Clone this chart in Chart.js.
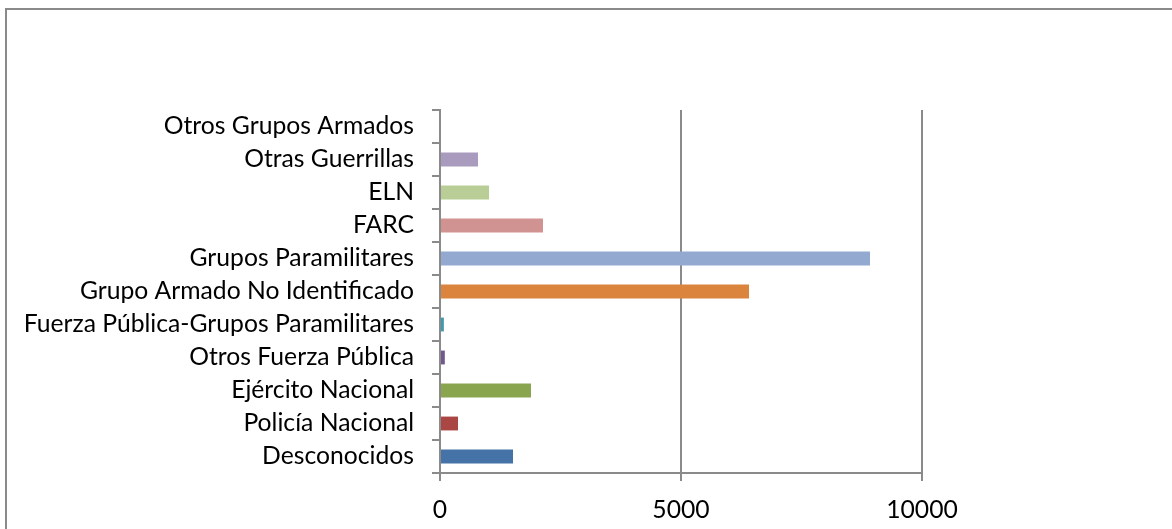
<!DOCTYPE html>
<html>
<head>
<meta charset="utf-8">
<script src="https://cdn.jsdelivr.net/npm/chart.js@4/dist/chart.umd.min.js"></script>
<style>
  html, body { margin: 0; padding: 0; background: #fff; overflow: hidden; }
  #frame {
    position: absolute; left: 5px; top: 8px;
    width: 1300px; height: 700px;
    border-left: 2px solid #8a8a8a; border-top: 2px solid #8a8a8a;
  }
  #wrap { position: absolute; left: 0; top: 0; width: 1172px; height: 529px; }
</style>
</head>
<body>
<div id="frame"></div>
<div id="wrap"><canvas id="chart"></canvas></div>
<script>
// Victims by presumed perpetrator (bottom to top as drawn)
const categories = [
  'Desconocidos',
  'Policía Nacional',
  'Ejército Nacional',
  'Otros Fuerza Pública',
  'Fuerza Pública-Grupos Paramilitares',
  'Grupo Armado No Identificado',
  'Grupos Paramilitares',
  'FARC',
  'ELN',
  'Otras Guerrillas',
  'Otros Grupos Armados'
];
const values = [1515, 373, 1888, 100, 80, 6411, 8921, 2137, 1017, 788, 0];
const barColors = [
  '#4572A7', '#AA4643', '#89A54E', '#71588F', '#4198AF',
  '#DB843D', '#93A9CF', '#D19392', '#B9CD96', '#A99BBD', '#92C3D5'
];
const xTicks = [0, 5000, 10000];

const axisGray = '#8a8a8a';
const labelFont = { family: 'Lato, "Open Sans", sans-serif', size: 24.7 };

new Chart(document.getElementById('chart'), {
  type: 'bar',
  data: {
    labels: categories,
    datasets: [{
      data: values,
      backgroundColor: barColors,
      borderWidth: 0,
      categoryPercentage: 1,
      barPercentage: 0.42
    }]
  },
  options: {
    indexAxis: 'y',
    responsive: true,
    maintainAspectRatio: false,
    animation: false,
    layout: { padding: { top: 110, right: 250, bottom: 0, left: 0 } },
    plugins: { legend: { display: false }, tooltip: { enabled: false } },
    scales: {
      x: {
        min: xTicks[0],
        max: xTicks[xTicks.length - 1],
        afterBuildTicks: s => { s.ticks = xTicks.map(v => ({ value: v })); },
        afterFit: s => { s.height = 56; },
        grid: { color: axisGray, lineWidth: 2, tickLength: 8 },
        border: { color: axisGray, width: 2 },
        ticks: { color: '#000', font: labelFont, padding: 14, callback: v => String(v) }
      },
      y: {
        reverse: true,
        afterFit: s => { s.width = 440; },
        grid: { offset: true, drawOnChartArea: false, color: axisGray, lineWidth: 2, tickLength: 8 },
        border: { color: axisGray, width: 2 },
        ticks: { color: '#000', font: labelFont, padding: 18, autoSkip: false }
      }
    }
  }
});
</script>
</body>
</html>
